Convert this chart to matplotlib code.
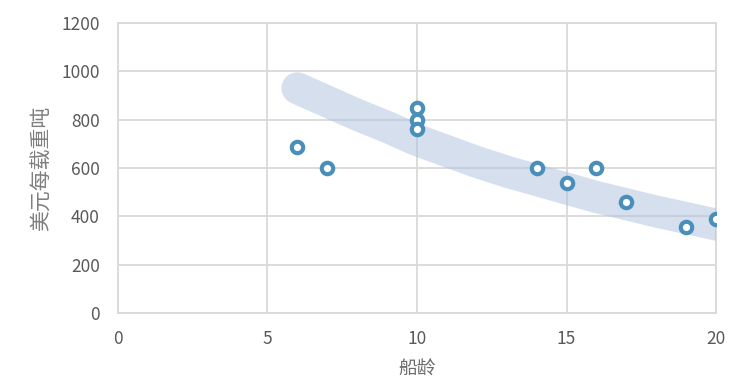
import matplotlib.pyplot as plt

plt.rcParams['font.family'] = ['Noto Sans CJK SC', 'DejaVu Sans']

# ship age vs. USD per deadweight tonne
age = [6, 7, 10, 10, 10, 14, 15, 16, 17, 19, 20]
price = [687, 600, 850, 800, 760, 600, 537, 600, 460, 355, 390]

# trend band (centre line)
trend_x = [6, 7, 8, 9, 10, 11, 12, 13, 14, 15, 16, 17, 18, 19, 20, 20.6]
trend_y = [930, 875, 820, 770, 715, 670, 625, 585, 550, 515, 480, 450, 420, 393, 366, 350]

fig = plt.figure(figsize=(7.49, 3.82), dpi=100)
ax = fig.add_axes([0.1575, 0.1806, 0.7985, 0.7592])

ax.plot(trend_x, trend_y, color='#ADC1DD', alpha=0.5, lw=23,
        solid_capstyle='round', zorder=3)
ax.plot(age, price, 'o', ms=8.2, mew=3.0, mfc='white', mec='#4A8FBA',
        zorder=4, ls='none')

ax.set_xlim(0, 20)
ax.set_ylim(0, 1200)
ax.set_xticks([0, 5, 10, 15, 20])
ax.set_yticks(range(0, 1201, 200))
ax.grid(True, color='#D9D9D9', lw=1.3)
ax.set_axisbelow(True)
for s in ax.spines.values():
    s.set_color('#D9D9D9')
    s.set_linewidth(1.3)
ax.tick_params(length=0, labelsize=12.5, labelcolor='#595959')
ax.tick_params(axis='y', pad=13)
ax.tick_params(axis='x', pad=12)
for lab in ax.get_xticklabels() + ax.get_yticklabels():
    lab.set_fontweight('light')

ax.set_xlabel('船龄', fontsize=13.5, color='#6E6E6E', labelpad=8, fontweight='light')
ax.set_ylabel('美元每载重吨', fontsize=15, color='#7F7F7F', labelpad=6, fontweight='light')

fig.savefig('out.png', dpi=100)
